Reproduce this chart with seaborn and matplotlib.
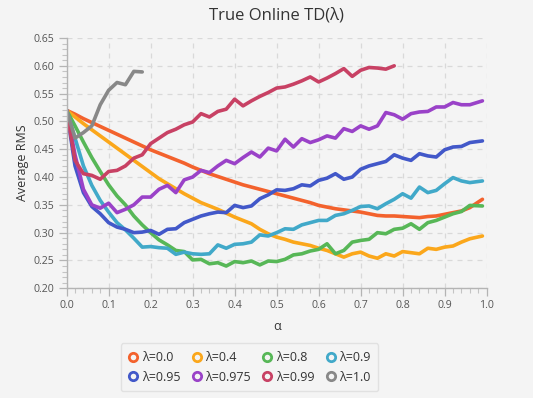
import numpy as np
import pandas as pd
import matplotlib
matplotlib.use("Agg")
import matplotlib.pyplot as plt
from matplotlib.lines import Line2D
from matplotlib.ticker import MultipleLocator
import seaborn as sns

# step size alpha (x axis)
alpha = [0.00, 0.02, 0.04, 0.06, 0.08, 0.10, 0.12, 0.14, 0.16, 0.18,
         0.20, 0.22, 0.24, 0.26, 0.28, 0.30, 0.32, 0.34, 0.36, 0.38,
         0.40, 0.42, 0.44, 0.46, 0.48, 0.50, 0.52, 0.54, 0.56, 0.58,
         0.60, 0.62, 0.64, 0.66, 0.68, 0.70, 0.72, 0.74, 0.76, 0.78,
         0.80, 0.82, 0.84, 0.86, 0.88, 0.90, 0.92, 0.94, 0.96, 0.99]

# average RMS error per lambda
rms_00 = [0.520, 0.513, 0.505, 0.498, 0.491, 0.484, 0.477, 0.470, 0.463, 0.456,
          0.449, 0.443, 0.437, 0.431, 0.425, 0.418, 0.412, 0.406, 0.401, 0.396,
          0.391, 0.386, 0.382, 0.378, 0.374, 0.370, 0.366, 0.362, 0.358, 0.354,
          0.349, 0.346, 0.343, 0.341, 0.339, 0.337, 0.334, 0.331, 0.330, 0.330,
          0.329, 0.328, 0.327, 0.329, 0.330, 0.333, 0.336, 0.339, 0.345, 0.360]
rms_04 = [0.520, 0.508, 0.496, 0.485, 0.474, 0.463, 0.452, 0.441, 0.430, 0.419,
          0.408, 0.397, 0.388, 0.379, 0.370, 0.362, 0.354, 0.348, 0.342, 0.335,
          0.328, 0.322, 0.316, 0.306, 0.298, 0.292, 0.288, 0.283, 0.280, 0.277,
          0.272, 0.268, 0.262, 0.256, 0.262, 0.265, 0.258, 0.254, 0.262, 0.258,
          0.266, 0.264, 0.262, 0.272, 0.270, 0.274, 0.276, 0.283, 0.289, 0.294]
rms_08 = [0.520, 0.492, 0.463, 0.435, 0.410, 0.386, 0.366, 0.350, 0.330, 0.314,
          0.300, 0.287, 0.278, 0.268, 0.266, 0.251, 0.252, 0.244, 0.246, 0.240,
          0.248, 0.246, 0.249, 0.242, 0.249, 0.248, 0.252, 0.260, 0.262, 0.267,
          0.270, 0.280, 0.262, 0.268, 0.283, 0.286, 0.288, 0.300, 0.298, 0.306,
          0.308, 0.316, 0.306, 0.318, 0.322, 0.328, 0.334, 0.338, 0.349, 0.348]
rms_09 = [0.520, 0.470, 0.420, 0.385, 0.358, 0.337, 0.318, 0.305, 0.290, 0.274,
          0.275, 0.273, 0.272, 0.261, 0.265, 0.262, 0.261, 0.262, 0.278, 0.272,
          0.279, 0.280, 0.283, 0.296, 0.294, 0.300, 0.307, 0.306, 0.314, 0.318,
          0.322, 0.322, 0.331, 0.334, 0.340, 0.347, 0.348, 0.343, 0.352, 0.360,
          0.370, 0.362, 0.382, 0.372, 0.376, 0.388, 0.399, 0.393, 0.390, 0.393]
rms_095 = [0.520, 0.420, 0.372, 0.347, 0.334, 0.318, 0.310, 0.306, 0.300, 0.301,
           0.304, 0.297, 0.306, 0.307, 0.318, 0.324, 0.330, 0.334, 0.337, 0.336,
           0.349, 0.345, 0.348, 0.361, 0.368, 0.377, 0.376, 0.379, 0.386, 0.384,
           0.394, 0.398, 0.406, 0.396, 0.400, 0.414, 0.420, 0.424, 0.428, 0.440,
           0.434, 0.430, 0.442, 0.438, 0.436, 0.449, 0.454, 0.455, 0.462, 0.465]
rms_0975 = [0.520, 0.440, 0.378, 0.350, 0.344, 0.353, 0.336, 0.342, 0.350, 0.364,
            0.364, 0.378, 0.385, 0.372, 0.395, 0.400, 0.412, 0.408, 0.420, 0.430,
            0.424, 0.435, 0.445, 0.436, 0.452, 0.447, 0.468, 0.454, 0.469, 0.462,
            0.467, 0.474, 0.470, 0.487, 0.482, 0.492, 0.486, 0.492, 0.516, 0.512,
            0.504, 0.514, 0.517, 0.518, 0.526, 0.526, 0.534, 0.530, 0.530, 0.537]
rms_099 = [0.520, 0.430, 0.406, 0.403, 0.396, 0.410, 0.412, 0.420, 0.434, 0.440,
           0.460, 0.470, 0.480, 0.486, 0.494, 0.499, 0.514, 0.508, 0.518, 0.522,
           0.540, 0.528, 0.537, 0.545, 0.552, 0.560, 0.562, 0.567, 0.573, 0.580,
           0.571, 0.578, 0.586, 0.595, 0.581, 0.592, 0.597, 0.596, 0.594, 0.600]
rms_10 = [0.520, 0.470, 0.480, 0.492, 0.530, 0.556, 0.570, 0.566, 0.590, 0.589]

labels = ["λ=0.0", "λ=0.4", "λ=0.8", "λ=0.9",
          "λ=0.95", "λ=0.975", "λ=0.99", "λ=1.0"]
series = [rms_00, rms_04, rms_08, rms_09, rms_095, rms_0975, rms_099, rms_10]
colors = ["#f3622d", "#fba71b", "#57b757", "#41a9c9",
          "#4258c9", "#9a42c8", "#c84164", "#888888"]

# long format table for seaborn
rows = []
for lab, vals in zip(labels, series):
    for a, v in zip(alpha, vals):
        rows.append((lab, a, v))
df = pd.DataFrame(rows, columns=["lambda", "alpha", "rms"])

sns.set_theme(style="white")
plt.rcParams["font.family"] = ["Open Sans", "DejaVu Sans"]

bg = "#f4f4f4"
fig = plt.figure(figsize=(5.33, 3.98), dpi=100, facecolor=bg)
ax = fig.add_axes([0.125, 0.2757, 0.788, 0.6288], facecolor=bg)

sns.lineplot(data=df, x="alpha", y="rms", hue="lambda", hue_order=labels,
             palette=dict(zip(labels, colors)), estimator=None, sort=False,
             linewidth=2.6, legend=False, ax=ax)

ax.set_xlim(0, 1.0)
ax.set_ylim(0.20, 0.65)
ax.xaxis.set_major_locator(MultipleLocator(0.1))
ax.xaxis.set_minor_locator(MultipleLocator(0.02))
ax.yaxis.set_major_locator(MultipleLocator(0.05))
ax.yaxis.set_minor_locator(MultipleLocator(0.01))
ax.set_xticklabels([f"{v:.1f}" for v in ax.get_xticks()])
ax.set_yticklabels([f"{v:.2f}" for v in ax.get_yticks()])

ax.grid(True, which="major", color="#d9d9d9", linestyle=(0, (4, 4)), linewidth=0.9)
for s in ["top", "right"]:
    ax.spines[s].set_visible(False)
for s in ["left", "bottom"]:
    ax.spines[s].set_color("#b4b4b4")
    ax.spines[s].set_linewidth(1.0)
ax.tick_params(which="major", length=5.8, width=0.9, color="#b4b4b4",
               labelsize=7.6, labelcolor="#555555", pad=3, left=True, bottom=True)
ax.tick_params(which="minor", length=3.4, width=0.8, color="#c4c4c4", left=True, bottom=True)

ax.set_title("True Online TD(λ)", fontsize=12, color="#333333", pad=13)
ax.set_xlabel("α", fontsize=9, color="#333333", labelpad=6)
ax.set_ylabel("Average RMS", fontsize=9, color="#333333", labelpad=3)

# legend is filled column by column, so interleave to get row order
order = [0, 4, 1, 5, 2, 6, 3, 7]
handles = [Line2D([], [], linestyle="none", marker="o", markersize=6,
                  markerfacecolor="none", markeredgecolor=colors[i], markeredgewidth=2.0)
           for i in order]
leg = fig.legend(handles, [labels[i] for i in order], loc="center",
                 bbox_to_anchor=(0.468, 0.077), ncol=4, fontsize=9, frameon=True,
                 handlelength=0.8, handletextpad=0.3, columnspacing=0.9,
                 borderpad=0.6, labelspacing=0.55, fancybox=True)
leg.get_frame().set_facecolor(bg)
leg.get_frame().set_edgecolor("#dddddd")
for t in leg.get_texts():
    t.set_color("#333333")

fig.savefig("out.png", dpi=100, facecolor=bg)
